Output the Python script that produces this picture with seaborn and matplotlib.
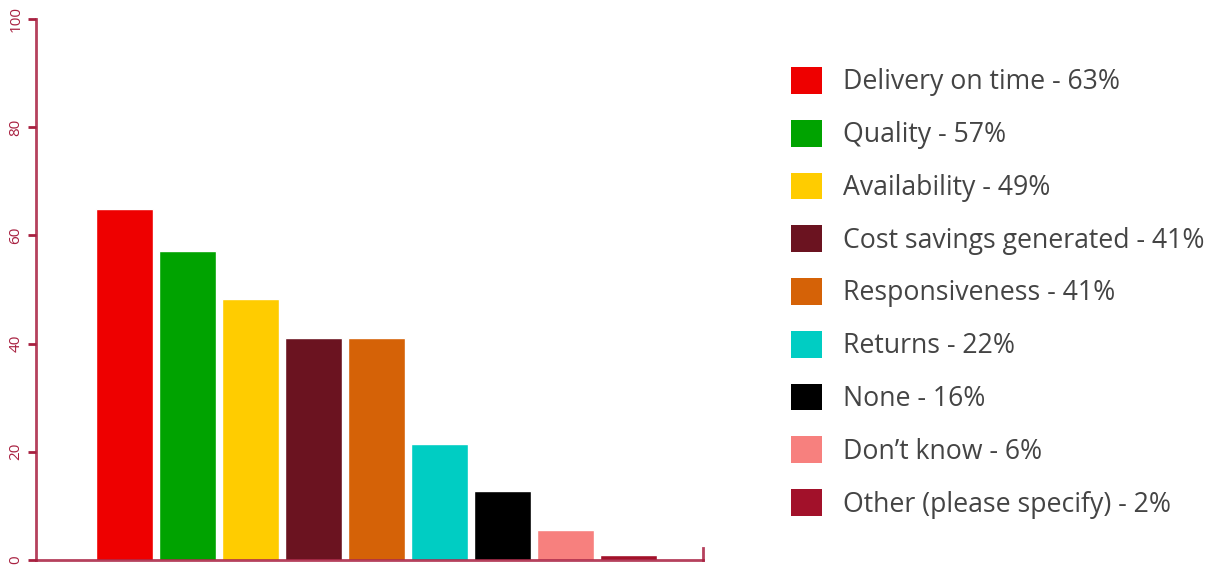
import matplotlib
matplotlib.use("Agg")
import matplotlib.pyplot as plt
import seaborn as sns
import pandas as pd
from matplotlib.patches import Patch

# Data (bar heights as drawn; legend keeps its own labels)
categories = ["Delivery on time", "Quality", "Availability", "Cost savings generated",
              "Responsiveness", "Returns", "None", "Don\u2019t know", "Other (please specify)"]
values = [64.8, 57.2, 48.2, 41.0, 41.0, 21.4, 12.7, 5.6, 1.0]
legend_pct = [63, 57, 49, 41, 41, 22, 16, 6, 2]
colors = ["#ee0000", "#00a300", "#ffcc00", "#6b1320", "#d56207",
          "#00cdc3", "#000000", "#f7807e", "#a2112a"]

axis_col = "#a82040"

sns.set_style("white")
plt.rcParams['font.family'] = ['Open Sans', 'DejaVu Sans']

df = pd.DataFrame({"category": categories, "value": values})

fig = plt.figure(figsize=(12.16, 5.65), dpi=100)
ax = fig.add_axes([36 / 1216, 5 / 565, 667 / 1216, 541 / 565])

sns.barplot(data=df, x="category", y="value", hue="category", palette=colors,
            order=categories, hue_order=categories, width=0.905, dodge=False,
            legend=False, ax=ax, saturation=1)

ax.set_xlim(-1.4, 9.18)
ax.set_ylim(0, 100)
ax.set_yticks([0, 20, 40, 60, 80, 100])
ax.set_xticks([])
ax.set_xlabel("")
ax.set_ylabel("")
ax.tick_params(axis="y", left=True, direction="out", length=6, width=2, color=axis_col,
               labelcolor=axis_col, labelsize=11, pad=3)
for lbl in ax.get_yticklabels():
    lbl.set_rotation(90)
    lbl.set_va("center")

for side in ["left", "bottom", "right"]:
    ax.spines[side].set_visible(True)
    ax.spines[side].set_color(axis_col)
    ax.spines[side].set_linewidth(2)
    ax.spines[side].set_alpha(0.85)
ax.spines["top"].set_visible(False)
ax.spines["right"].set_bounds(0, 2.2)

handles = [Patch(facecolor=c, edgecolor="none") for c in colors]
labels = [f"{c} - {p}%" for c, p in zip(categories, legend_pct)]
fig.legend(handles, labels, loc="upper left", bbox_to_anchor=(767 / 1216, 1 - 43 / 565),
           frameon=False, fontsize=19.2, labelcolor="#444444",
           handlelength=1.17, handleheight=1.17, handletextpad=0.78, labelspacing=0.875)

fig.savefig("out.png", dpi=100)
